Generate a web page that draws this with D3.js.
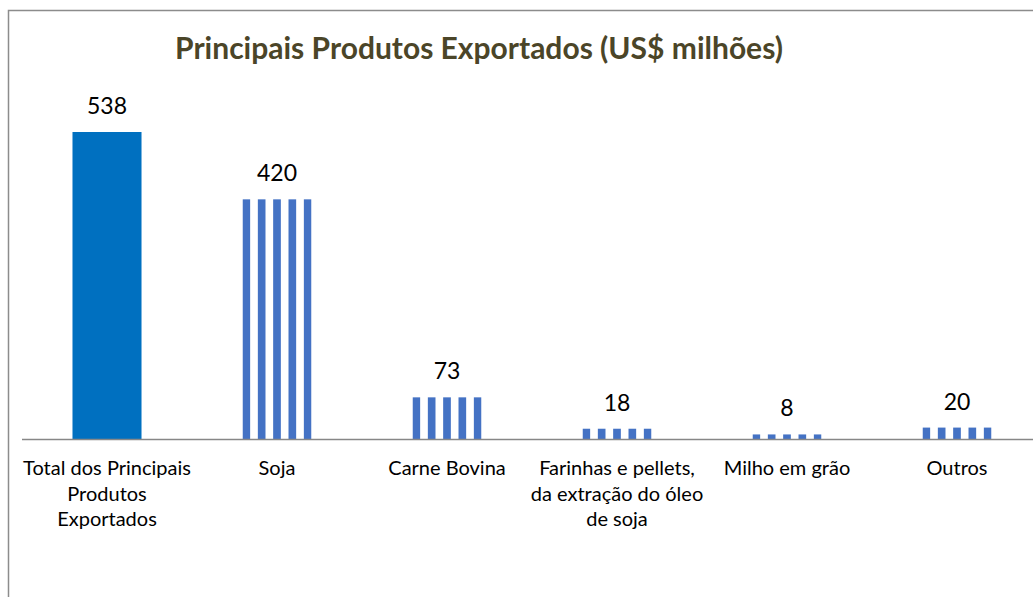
<!DOCTYPE html>
<html>
<head>
<meta charset="utf-8">
<script src="https://cdn.jsdelivr.net/npm/d3@7"></script>
<style>
  body { margin: 0; background: #fff; }
  svg { display: block; font-family: Lato, "Open Sans", sans-serif; }
</style>
</head>
<body>
<svg id="chart"></svg>
<script>
// data
const categories = [
    "Total dos Principais\nProdutos\nExportados",
    "Soja",
    "Carne Bovina",
    "Farinhas e pellets,\nda extração do óleo\nde soja",
    "Milho em grão",
    "Outros"
];
const values = [538, 420, 73, 18, 8, 20];
const solidBar = [true, false, false, false, false, false];
const chartTitle = "Principais Produtos Exportados (US$ milhões)";

const width = 1033, height = 597;

const svg = d3.select('#chart')
    .attr('width', width)
    .attr('height', height);

// chart frame (runs off the right and bottom edge in the reference)
svg.append('rect')
    .attr('x', 8.5)
    .attr('y', 10.5)
    .attr('width', width + 20)
    .attr('height', height + 20)
    .attr('fill', '#fff')
    .attr('stroke', '#8c8c8c')
    .attr('stroke-width', 1.5);

// wide vertical stripe pattern, sized to each bar's box
const defs = svg.append('defs');
const pat = defs.append('pattern')
    .attr('id', 'stripes')
    .attr('patternUnits', 'objectBoundingBox')
    .attr('patternContentUnits', 'objectBoundingBox')
    .attr('width', 1 / 4.5)
    .attr('height', 1);
pat.append('rect')
    .attr('width', 0.5 / 4.5)
    .attr('height', 1)
    .attr('fill', '#4472c4');

const xScale = d3.scaleBand()
    .domain(categories)
    .range([22, 1042])
    .paddingInner(0.594)
    .paddingOuter(0.297);

const yScale = d3.scaleLinear()
    .domain([0, 538])
    .range([439, 132]);

// bars
svg.selectAll('.bar')
    .data(values)
    .join('rect')
    .attr('class', 'bar')
    .attr('x', (d, i) => xScale(categories[i]))
    .attr('width', xScale.bandwidth())
    .attr('y', d => yScale(d))
    .attr('height', d => yScale(0) - yScale(d))
    .attr('fill', (d, i) => solidBar[i] ? '#0070c0' : 'url(#stripes)');

// value labels
svg.selectAll('.value-label')
    .data(values)
    .join('text')
    .attr('class', 'value-label')
    .attr('x', (d, i) => xScale(categories[i]) + xScale.bandwidth() / 2)
    .attr('y', d => yScale(d) - 18)
    .attr('text-anchor', 'middle')
    .attr('font-size', 23)
    .attr('fill', '#000')
    .text(d => d);

// category axis
const xAxis = d3.axisBottom(xScale).tickSize(0).tickPadding(0).tickFormat('');
const xAxisG = svg.append('g')
    .attr('class', 'axis x-axis')
    .attr('transform', `translate(0,${yScale(0)})`)
    .call(xAxis);
xAxisG.select('.domain')
    .attr('d', `M22,0.5H${width}`)
    .attr('stroke', '#878787')
    .attr('stroke-width', 1.5);

const catLabels = svg.selectAll('.cat-label')
    .data(categories)
    .join('text')
    .attr('class', 'cat-label')
    .attr('text-anchor', 'middle')
    .attr('font-size', 20)
    .attr('fill', '#000')
    .attr('transform', d => `translate(${xScale(d) + xScale.bandwidth() / 2},${475})`);

catLabels.selectAll('tspan')
    .data(d => d.split('\n'))
    .join('tspan')
    .attr('x', 0)
    .attr('y', (d, i) => i * 25.5)
    .text(d => d);

// title
svg.append('text')
    .attr('x', 479)
    .attr('y', 59)
    .attr('text-anchor', 'middle')
    .attr('font-size', 30)
    .attr('font-weight', 'bold')
    .attr('fill', '#4b4528')
    .text(chartTitle);
</script>
</body>
</html>
